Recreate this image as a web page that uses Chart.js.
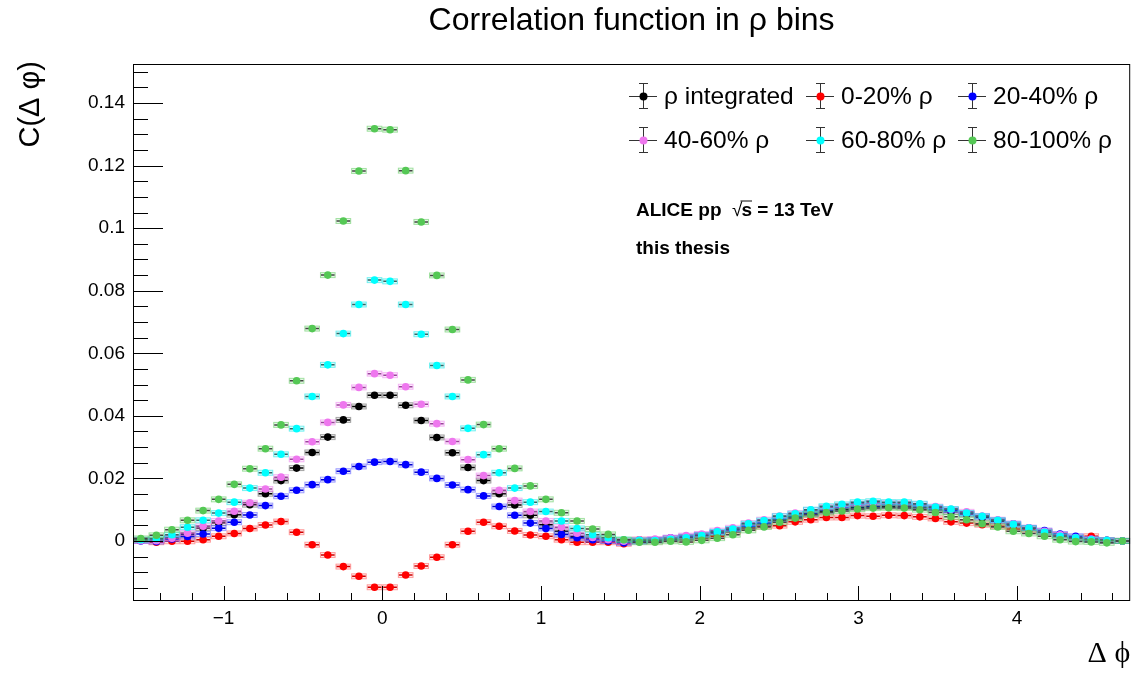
<!DOCTYPE html>
<html><head><meta charset="utf-8">
<script src="https://cdn.jsdelivr.net/npm/chart.js@4.4.1/dist/chart.umd.min.js"></script>
<style>html,body{margin:0;padding:0;background:#fff;}#wrap{width:1134px;height:673px;}</style>
</head><body><div id="wrap"><canvas id="c" width="1134" height="673"></canvas></div>
<script>
const chartTitle = 'Correlation function in ρ bins';
const xTitle = 'Δ ϕ';
const yTitle = 'C(Δ φ)';
const seriesNames = ['ρ integrated', '0-20% ρ', '20-40% ρ', '40-60% ρ', '60-80% ρ', '80-100% ρ'];
const xTickValues = [-1, 0, 1, 2, 3, 4];
const xTickLabels = ['−1', '0', '1', '2', '3', '4'];
const yTickValues = [0, 0.02, 0.04, 0.06, 0.08, 0.1, 0.12, 0.14];
const yTickLabels = ['0', '0.02', '0.04', '0.06', '0.08', '0.1', '0.12', '0.14'];

// bin centres of Δφ (64 bins from -π/2 to 3π/2)
const deltaPhi = [
 -1.5217,-1.4235,-1.3254,-1.2272,-1.1290,-1.0308,-0.9327,-0.8345,-0.7363,-0.6381,-0.5400,-0.4418,-0.3436,-0.2454,-0.1473,-0.0491,
  0.0491, 0.1473, 0.2454, 0.3436, 0.4418, 0.5400, 0.6381, 0.7363, 0.8345, 0.9327, 1.0308, 1.1290, 1.2272, 1.3254, 1.4235, 1.5217,
  1.6199, 1.7181, 1.8162, 1.9144, 2.0126, 2.1108, 2.2089, 2.3071, 2.4053, 2.5035, 2.6016, 2.6998, 2.7980, 2.8962, 2.9943, 3.0925,
  3.1907, 3.2889, 3.3870, 3.4852, 3.5834, 3.6816, 3.7797, 3.8779, 3.9761, 4.0743, 4.1724, 4.2706, 4.3688, 4.4670, 4.5651, 4.6633
];

const rhoIntegrated = [
 0.0002,0.0002,0.0010,0.0020,0.0041,0.0057,0.0084,0.0116,0.0151,0.0193,0.0233,0.0283,0.0332,0.0387,0.0430,0.0466,
 0.0466,0.0434,0.0385,0.0331,0.0282,0.0235,0.0193,0.0151,0.0115,0.0082,0.0052,0.0031,0.0015,0.0006,0.0001,-0.0001,
 0.0000,0.0003,0.0008,0.0012,0.0018,0.0025,0.0034,0.0045,0.0055,0.0067,0.0077,0.0086,0.0094,0.0101,0.0106,0.0109,
 0.0110,0.0109,0.0106,0.0100,0.0093,0.0085,0.0074,0.0063,0.0051,0.0040,0.0030,0.0019,0.0011,0.0005,0.0001,0.0000
];
const rho0to20 = [
 0.0002,-0.0004,-0.0001,-0.0001,0.0004,0.0015,0.0024,0.0040,0.0051,0.0062,0.0028,-0.0012,-0.0045,-0.0082,-0.0113,-0.0148,
 -0.0148,-0.0109,-0.0080,-0.0052,-0.0012,0.0031,0.0060,0.0047,0.0032,0.0019,0.0015,0.0004,-0.0004,-0.0004,-0.0004,-0.0009,
 0.0004,-0.0001,0.0004,0.0003,0.0009,0.0015,0.0029,0.0041,0.0047,0.0049,0.0061,0.0068,0.0075,0.0075,0.0081,0.0079,
 0.0082,0.0081,0.0077,0.0072,0.0061,0.0057,0.0052,0.0047,0.0038,0.0036,0.0028,0.0017,0.0009,0.0015,0.0002,0.0000
];
const rho20to40 = [
 0.0000,-0.0002,0.0006,0.0014,0.0022,0.0041,0.0060,0.0083,0.0113,0.0143,0.0162,0.0180,0.0196,0.0223,0.0238,0.0252,
 0.0254,0.0244,0.0220,0.0200,0.0179,0.0164,0.0144,0.0110,0.0082,0.0057,0.0040,0.0021,0.0010,0.0004,0.0000,-0.0006,
 -0.0002,0.0004,0.0010,0.0014,0.0020,0.0027,0.0036,0.0048,0.0058,0.0070,0.0080,0.0089,0.0098,0.0105,0.0110,0.0112,
 0.0114,0.0113,0.0110,0.0105,0.0098,0.0088,0.0078,0.0066,0.0055,0.0042,0.0033,0.0022,0.0015,0.0006,0.0002,0.0000
];
const rho40to60 = [
 0.0001,0.0001,0.0009,0.0025,0.0047,0.0064,0.0095,0.0122,0.0166,0.0204,0.0261,0.0317,0.0379,0.0435,0.0491,0.0535,
 0.0530,0.0493,0.0437,0.0375,0.0318,0.0260,0.0209,0.0162,0.0129,0.0094,0.0064,0.0044,0.0025,0.0011,0.0004,-0.0001,
 0.0004,0.0006,0.0010,0.0017,0.0022,0.0033,0.0042,0.0057,0.0068,0.0080,0.0089,0.0099,0.0108,0.0113,0.0119,0.0122,
 0.0122,0.0120,0.0117,0.0110,0.0101,0.0093,0.0080,0.0068,0.0055,0.0042,0.0031,0.0020,0.0011,0.0006,0.0002,0.0000
];
const rho60to80 = [
 0.0004,0.0007,0.0020,0.0044,0.0066,0.0089,0.0124,0.0169,0.0218,0.0277,0.0359,0.0462,0.0563,0.0663,0.0756,0.0834,
 0.0830,0.0756,0.0661,0.0561,0.0462,0.0360,0.0276,0.0218,0.0169,0.0124,0.0094,0.0064,0.0040,0.0020,0.0010,0.0004,
 0.0002,0.0001,0.0005,0.0010,0.0017,0.0029,0.0038,0.0055,0.0065,0.0079,0.0087,0.0100,0.0111,0.0117,0.0124,0.0127,
 0.0124,0.0124,0.0119,0.0108,0.0102,0.0089,0.0079,0.0066,0.0053,0.0041,0.0028,0.0015,0.0010,0.0004,0.0002,0.0000
];
const rho80to100 = [
 0.0008,0.0018,0.0036,0.0066,0.0097,0.0133,0.0181,0.0231,0.0295,0.0371,0.0512,0.0679,0.0850,0.1023,0.1183,0.1318,
 0.1315,0.1184,0.1020,0.0849,0.0676,0.0515,0.0372,0.0295,0.0232,0.0176,0.0133,0.0090,0.0064,0.0038,0.0021,0.0004,
 -0.0004,-0.0004,-0.0001,-0.0003,0.0002,0.0009,0.0020,0.0034,0.0045,0.0060,0.0073,0.0084,0.0091,0.0096,0.0102,0.0105,
 0.0106,0.0105,0.0100,0.0091,0.0077,0.0068,0.0055,0.0045,0.0031,0.0024,0.0015,0.0004,-0.0002,-0.0003,-0.0006,0.0000
];

const seriesValues = [rhoIntegrated, rho0to20, rho20to40, rho40to60, rho60to80, rho80to100];
const markerColors = ['#000000', '#ff0000', '#0000ff', '#ee77ee', '#00ffff', '#55c855'];
const boxRGB = ['90,90,90', '255,80,80', '80,80,255', '238,119,238', '0,230,230', '85,200,85'];
const errLineColors = ['#000000', '#cc0000', '#0000cc', '#994499', '#336666', '#444444'];

const FONT = '"Liberation Sans", Arial, Helvetica, sans-serif';
const binHalf = (deltaPhi[1] - deltaPhi[0]) / 2;

const rootPlugin = {
  id: 'rootStyle',
  beforeDatasetDraw(chart, args) {
    const ctx = chart.ctx, xs = chart.scales.x, a = chart.chartArea;
    const i = args.index;
    ctx.save();
    ctx.beginPath(); ctx.rect(a.left, a.top, a.right - a.left, a.bottom - a.top); ctx.clip();
    args.meta.data.forEach((pt, k) => {
      const x0 = xs.getPixelForValue(deltaPhi[k] - binHalf);
      const x1 = xs.getPixelForValue(deltaPhi[k] + binHalf);
      const y = pt.y;
      ctx.fillStyle = 'rgba(' + boxRGB[i] + ',0.15)';
      ctx.strokeStyle = 'rgba(' + boxRGB[i] + ',0.5)';
      ctx.lineWidth = 1;
      ctx.fillRect(x0, y - 2.5, x1 - x0, 5);
      ctx.strokeRect(x0 + 0.5, y - 2.5, x1 - x0 - 1, 5);
      ctx.strokeStyle = errLineColors[i];
      ctx.lineWidth = 1.5;
      ctx.beginPath(); ctx.moveTo(x0 + 1, y); ctx.lineTo(x1 - 1, y); ctx.stroke();
    });
    ctx.restore();
  },
  afterDraw(chart) {
    const ctx = chart.ctx, xs = chart.scales.x, ys = chart.scales.y, a = chart.chartArea;
    ctx.save();
    ctx.strokeStyle = '#000'; ctx.lineWidth = 1;
    // frame
    ctx.strokeRect(a.left + 0.5, a.top + 0.5, a.right - a.left - 1, a.bottom - a.top - 1);
    // y ticks (inside)
    for (let n = -3; n <= 30; n++) {
      const v = n * 0.005;
      const y = Math.round(ys.getPixelForValue(v)) + 0.5;
      if (y < a.top || y > a.bottom) continue;
      const major = n % 4 === 0;
      ctx.beginPath(); ctx.moveTo(a.left, y); ctx.lineTo(a.left + (major ? 30 : 15), y); ctx.stroke();
    }
    // x ticks (inside)
    for (let n = -7; n <= 23; n++) {
      const v = n * 0.2;
      const x = Math.round(xs.getPixelForValue(v)) + 0.5;
      if (x < a.left || x > a.right) continue;
      const major = n % 5 === 0;
      ctx.beginPath(); ctx.moveTo(x, a.bottom); ctx.lineTo(x, a.bottom - (major ? 15 : 8)); ctx.stroke();
    }
    ctx.fillStyle = '#000';
    // title
    ctx.font = '32px ' + FONT; ctx.textAlign = 'center'; ctx.textBaseline = 'middle';
    ctx.fillText(chartTitle, (a.left + a.right) / 2, 21);
    // x title
    ctx.font = '30px "Liberation Serif", "DejaVu Serif", serif'; ctx.textAlign = 'right';
    ctx.fillText(xTitle, a.right, 654);
    // y title
    ctx.save();
    ctx.translate(31, 61); ctx.rotate(-Math.PI / 2);
    ctx.font = '29px ' + FONT; ctx.textAlign = 'right'; ctx.textBaseline = 'middle';
    ctx.fillText(yTitle, 0, 0);
    ctx.restore();
    // legend
    const legX = [643, 820, 972], legY = [96, 140];
    ctx.font = '24.5px ' + FONT; ctx.textAlign = 'left'; ctx.textBaseline = 'middle';
    seriesNames.forEach((name, i) => {
      const cx = legX[i % 3], cy = legY[Math.floor(i / 3)];
      ctx.strokeStyle = '#333'; ctx.lineWidth = 1;
      ctx.beginPath();
      ctx.moveTo(cx - 14, cy + 0.5); ctx.lineTo(cx + 14, cy + 0.5);
      ctx.moveTo(cx + 0.5, cy - 13); ctx.lineTo(cx + 0.5, cy + 13);
      ctx.moveTo(cx - 4, cy - 13 + 0.5); ctx.lineTo(cx + 5, cy - 13 + 0.5);
      ctx.moveTo(cx - 4, cy + 13 - 0.5); ctx.lineTo(cx + 5, cy + 13 - 0.5);
      ctx.stroke();
      ctx.fillStyle = markerColors[i];
      ctx.beginPath(); ctx.arc(cx + 0.5, cy + 0.5, 4, 0, Math.PI * 2); ctx.fill();
      ctx.fillStyle = '#000';
      ctx.fillText(name, cx + 21, cy + 1);
    });
    // annotation
    ctx.font = 'bold 19px ' + FONT;
    let tx = 636; const ty = 211;
    const part1 = 'ALICE pp  ';
    ctx.fillText(part1, tx, ty); tx += ctx.measureText(part1).width;
    ctx.font = '19px ' + FONT;
    ctx.fillText('√', tx, ty); tx += ctx.measureText('√').width - 1;
    ctx.font = 'bold 19px ' + FONT;
    const sW = ctx.measureText('s').width;
    ctx.fillText('s', tx, ty);
    ctx.lineWidth = 1.2;
    ctx.beginPath(); ctx.moveTo(tx - 1, ty - 10); ctx.lineTo(tx + sW, ty - 10); ctx.stroke();
    tx += sW;
    ctx.fillText(' = 13 TeV', tx, ty);
    ctx.fillText('this thesis', 636, 249);
    ctx.restore();
  }
};

const order = [5, 4, 3, 2, 1, 0];
const datasets = seriesValues.map((vals, i) => ({
  label: seriesNames[i],
  data: vals.map((v, k) => ({ x: deltaPhi[k], y: v })),
  showLine: false,
  pointRadius: 3.8,
  pointHoverRadius: 3.8,
  pointBorderWidth: 0,
  pointBackgroundColor: markerColors[i],
  pointBorderColor: markerColors[i],
  order: order[i]
}));

new Chart(document.getElementById('c').getContext('2d'), {
  type: 'scatter',
  data: { datasets },
  options: {
    responsive: false, animation: false, devicePixelRatio: 1,
    layout: { padding: { top: 64, right: 2, left: 0, bottom: 0 } },
    plugins: { legend: { display: false }, tooltip: { enabled: false }, title: { display: false } },
    scales: {
      x: {
        type: 'linear', min: -Math.PI / 2, max: 3 * Math.PI / 2,
        grid: { display: false, drawTicks: false }, border: { display: false },
        afterBuildTicks: s => { s.ticks = xTickValues.map(v => ({ value: v })); },
        ticks: { callback: (v, idx) => xTickLabels[idx], font: { family: FONT, size: 19 }, color: '#000', padding: 6, maxRotation: 0, autoSkip: false },
        afterFit: s => { s.height = 72; }
      },
      y: {
        type: 'linear', min: -0.0192, max: 0.1525,
        grid: { display: false, drawTicks: false }, border: { display: false },
        afterBuildTicks: s => { s.ticks = yTickValues.map(v => ({ value: v })); },
        ticks: { callback: (v, idx) => yTickLabels[idx], font: { family: FONT, size: 19 }, color: '#000', padding: 8, autoSkip: false },
        afterFit: s => { s.width = 133; }
      }
    }
  },
  plugins: [rootPlugin]
});
</script></body></html>
